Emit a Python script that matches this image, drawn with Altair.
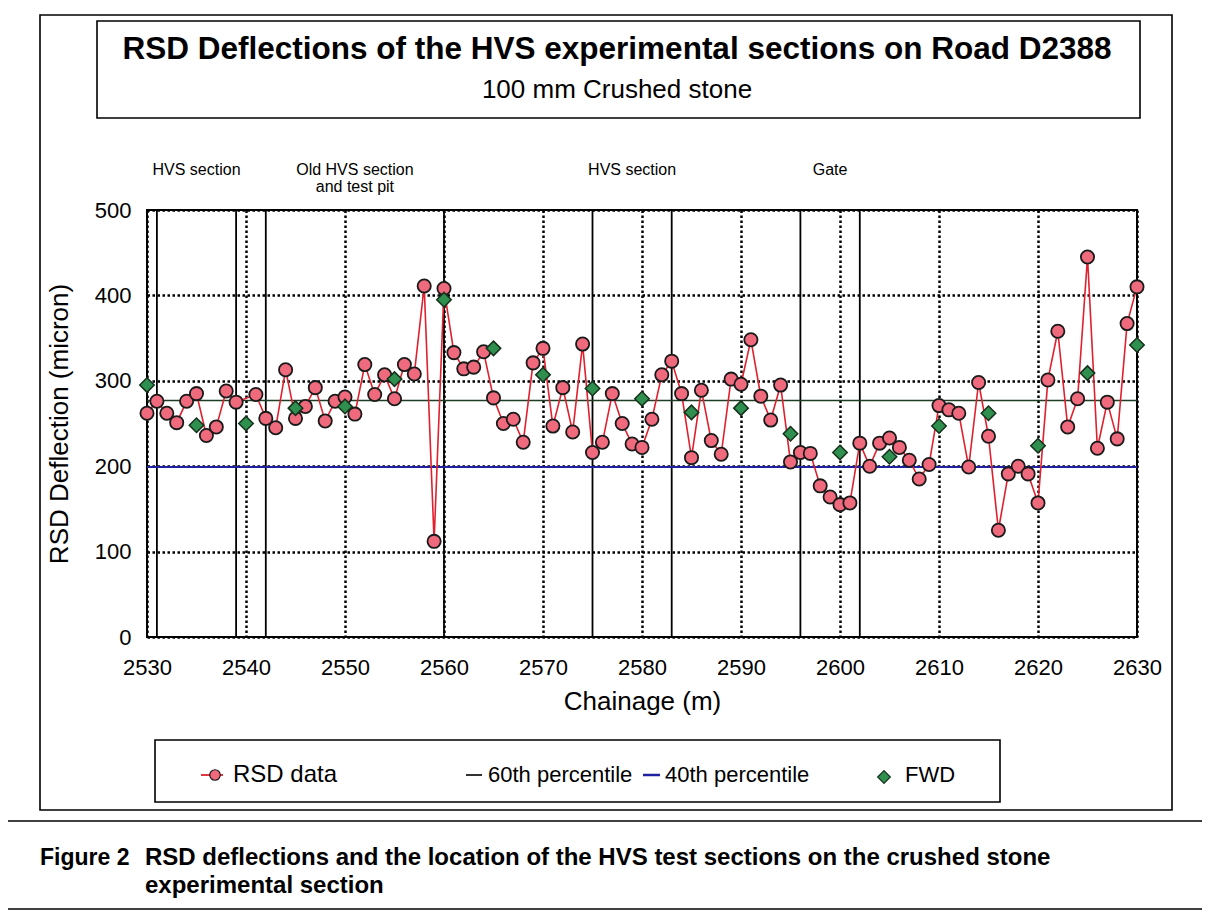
import altair as alt
import pandas as pd

FONT = "Liberation Sans"

# ---------------- data ----------------
rsd_chainage = list(range(2530, 2540)) + list(range(2541, 2631))
rsd_values = [262, 276, 262, 251, 276, 285, 236, 246, 288, 275,
              284, 256, 245, 313, 256, 270, 292, 253, 276, 281,
              261, 319, 284, 307, 279, 319, 308, 411, 112, 408,
              333, 314, 316, 334, 280, 250, 255, 228, 321, 338,
              247, 292, 240, 343, 216, 228, 285, 250, 226, 222,
              255, 307, 323, 285, 210, 289, 230, 214, 302, 296,
              348, 282, 254, 295, 205, 216, 215, 177, 164, 155,
              157, 227, 200, 227, 233, 222, 207, 185, 202, 271,
              266, 262, 199, 298, 235, 125, 191, 200, 191, 157,
              301, 358, 246, 279, 445, 221, 275, 232, 367, 410]

fwd_chainage = [2530, 2535, 2540, 2545, 2550, 2555, 2560, 2565, 2570, 2575, 2580,
                2585, 2590, 2595, 2600, 2605, 2610, 2615, 2620, 2625, 2630]
fwd_values = [295, 248, 250, 268, 270, 302, 395, 338, 307, 291, 279,
              263, 268, 238, 216, 211, 247, 262, 224, 309, 342]

pct60_value = [277]
pct40_value = [199]

section_bounds = [2531, 2539, 2542, 2560, 2575, 2583, 2596, 2602]
section_names = [["HVS section"], ["Old HVS section", "and test pit"], ["HVS section"], ["Gate"]]

x_ticks = [2530, 2540, 2550, 2560, 2570, 2580, 2590, 2600, 2610, 2620, 2630]
y_ticks = [0, 100, 200, 300, 400, 500]

title_text = "RSD Deflections of the HVS experimental sections on Road D2388"
subtitle_text = "100 mm Crushed stone"
caption_label = "Figure 2"
caption_line1 = "RSD deflections and the location of the HVS test sections on the crushed stone"
caption_line2 = "experimental section"

# ---------------- tables ----------------
rsd_df = pd.DataFrame({"chainage": rsd_chainage, "value": rsd_values})
fwd_df = pd.DataFrame({"chainage": fwd_chainage, "value": fwd_values})
p60_df = pd.DataFrame({"value": pct60_value})
p40_df = pd.DataFrame({"value": pct40_value})
bounds_df = pd.DataFrame({"chainage": section_bounds})
lab_df = pd.DataFrame({
    "chainage": [(section_bounds[2 * i] + section_bounds[2 * i + 1]) / 2 for i in range(4)],
    "label": section_names,
})

W, H = 990, 427

x_scale = alt.Scale(domain=[2530, 2630], nice=False, zero=False)
y_scale = alt.Scale(domain=[0, 500], nice=False)

x_axis = alt.Axis(values=x_ticks, format="d", title="Chainage (m)",
                  labelFontSize=22, titleFontSize=26, labelFont=FONT, titleFont=FONT,
                  labelPadding=20, titlePadding=10, titleFontWeight="normal",
                  labelFlush=False, labelOverlap=False,
                  grid=True, gridDash=[2.5, 2.5], gridColor="black", gridWidth=2.5, gridOpacity=1,
                  ticks=False, domain=False, labelColor="black", titleColor="black")
y_axis = alt.Axis(values=y_ticks, format="d", title="RSD Deflection (micron)",
                  labelFontSize=22, titleFontSize=26, labelFont=FONT, titleFont=FONT,
                  labelPadding=16, titlePadding=22, titleFontWeight="normal",
                  labelFlush=False, labelOverlap=False,
                  grid=True, gridDash=[2.5, 2.5], gridColor="black", gridWidth=2.5, gridOpacity=1,
                  ticks=False, domain=False, labelColor="black", titleColor="black")

X = alt.X("chainage:Q", scale=x_scale, axis=x_axis)
Y = alt.Y("value:Q", scale=y_scale, axis=y_axis)

sections = alt.Chart(bounds_df).mark_rule(color="black", strokeWidth=1.8).encode(x=X)

sec_labels = alt.Chart(lab_df).mark_text(fontSize=16, font=FONT, align="center",
                                         baseline="middle", lineHeight=17, color="black").encode(
    x=X, y=alt.value(-40), text="label")

p60 = alt.Chart(p60_df).mark_rule(color="#1f3d24", strokeWidth=1.6).encode(y=Y)
p40 = alt.Chart(p40_df).mark_rule(color="#2020a0", strokeWidth=2).encode(y=Y)

rsd_line = alt.Chart(rsd_df).mark_line(color="#e0202e", strokeWidth=1.6).encode(x=X, y=Y)
rsd_pts = alt.Chart(rsd_df).mark_point(shape="circle", filled=True, fill="#ee6a7c", stroke="#1a1a1a",
                                       strokeWidth=1.8, size=175, opacity=1).encode(x=X, y=Y)
fwd_pts = alt.Chart(fwd_df).mark_point(shape="diamond", filled=True, fill="#2f8f4f", stroke="#16301c",
                                       strokeWidth=1.5, size=210, opacity=1).encode(x=X, y=Y)

dummy = alt.Data(values=[{}])


def box(x1, x2, y1, y2, sw=1.6):
    return alt.Chart(dummy).mark_rect(fillOpacity=0, stroke="black", strokeWidth=sw).encode(
        x=alt.value(x1), x2=alt.value(x2), y=alt.value(y1), y2=alt.value(y2))


def hline(x1, x2, y, color="black", sw=1.6):
    return alt.Chart(dummy).mark_rule(color=color, strokeWidth=sw).encode(
        x=alt.value(x1), x2=alt.value(x2), y=alt.value(y))


def txt(s, x, y, size, weight="normal", align="left"):
    return alt.Chart(dummy).mark_text(text=s, fontSize=size, fontWeight=weight, font=FONT,
                                      align=align, baseline="middle", color="black").encode(
        x=alt.value(x), y=alt.value(y))


deco = [
    box(-107, 1025, -195, 600),           # outer figure frame
    box(-50, 993, -189, -92),             # title box
    txt(title_text, 470, -160, 31.5, "bold", "center"),
    txt(subtitle_text, 470, -120, 26, "normal", "center"),
    box(8, 853, 530, 592),                # legend box
    hline(54, 76, 565, "#e0202e", 1.8),
    alt.Chart(dummy).mark_point(shape="circle", filled=True, fill="#ee6a7c", stroke="#1a1a1a",
                                strokeWidth=1.2, size=110, opacity=1).encode(
        x=alt.value(68), y=alt.value(565)),
    txt("RSD data", 86, 565, 24),
    hline(319, 335, 565, "black", 1.6),
    txt("60th percentile", 341, 565, 22),
    hline(496, 513, 565, "#2020a0", 2.5),
    txt("40th percentile", 518, 565, 22),
    alt.Chart(dummy).mark_point(shape="diamond", filled=True, fill="#2f8f4f", stroke="#16301c",
                                strokeWidth=1.2, size=160, opacity=1).encode(
        x=alt.value(737), y=alt.value(567)),
    txt("FWD", 758, 565, 22),
    hline(-139, 1055, 611),               # caption box top
    hline(-139, 1055, 699),               # caption box bottom
    txt(caption_label, -107, 648, 23, "bold"),
    txt(caption_line1, -2, 648, 24, "bold"),
    txt(caption_line2, -2, 676, 24, "bold"),
]

chart = alt.layer(
    sections, p60, p40, rsd_line, rsd_pts, fwd_pts, sec_labels, *deco
).properties(
    width=W, height=H,
    padding={"left": 139, "top": 202, "right": 65, "bottom": 279},
    autosize=alt.AutoSizeParams(type="none"),
    background="white",
).configure_view(stroke="black", strokeWidth=2)

chart.save("out.html", embed_options={"renderer": "svg", "actions": False})
